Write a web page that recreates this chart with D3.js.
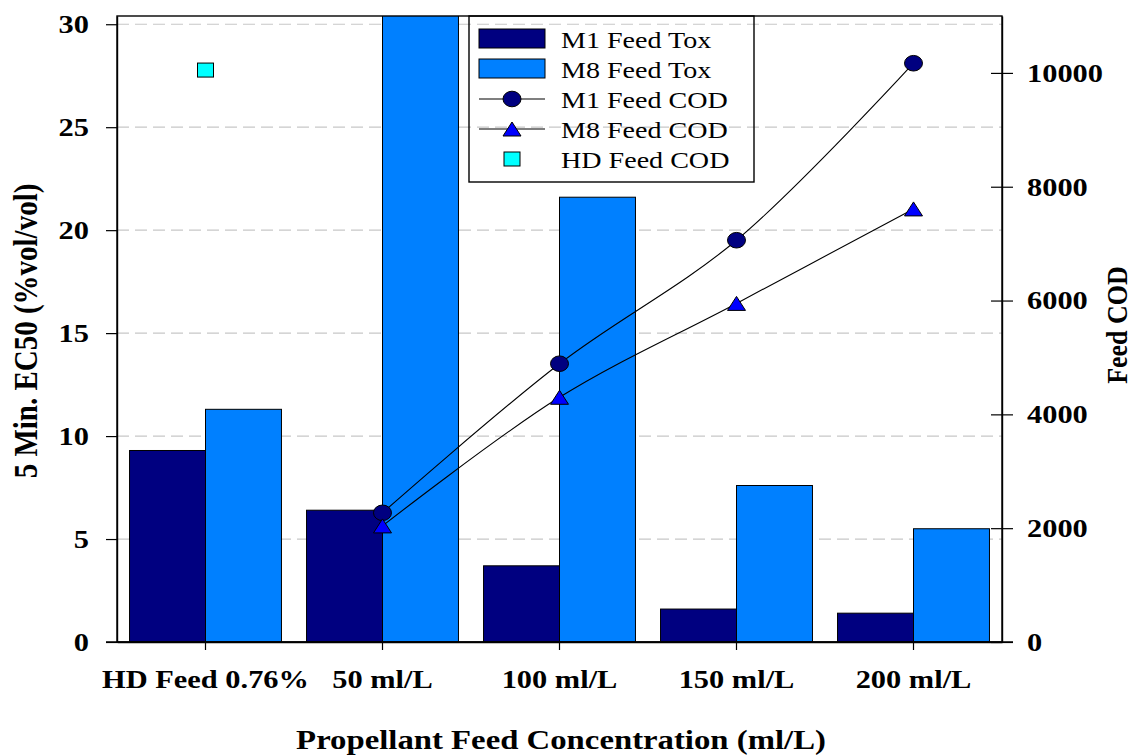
<!DOCTYPE html>
<html>
<head>
<meta charset="utf-8">
<script src="https://cdn.jsdelivr.net/npm/d3@7"></script>
<style>
  body { margin: 0; background: #fff; }
  text { font-family: "Liberation Serif", "Times New Roman", serif; fill: #000; }
</style>
</head>
<body>
<div id="chart"></div>
<script>
// chart data
var categories = ["HD Feed 0.76%", "50 ml/L", "100 ml/L", "150 ml/L", "200 ml/L"];
var m1Tox = [9.3, 6.4, 3.7, 1.6, 1.4];
var m8Tox = [11.3, 32, 21.6, 7.6, 5.5];   // 50 ml/L bar runs off the top
var m1Cod = [null, 2270, 4890, 7060, 10170];
var m8Cod = [null, 2040, 4300, 5950, 7610];
var hdCod = [10050, null, null, null, null];
var leftTicks = [0, 5, 10, 15, 20, 25, 30];
var rightTicks = [0, 2000, 4000, 6000, 8000, 10000];

var svgWidth = 1133;
var svgHeight = 756;
var margin = { top: 16, right: 131, bottom: 114, left: 117 };
var width = svgWidth - margin.left - margin.right;
var height = svgHeight - margin.top - margin.bottom;
var sx = 1.17; // the original is stretched sideways a little

var svg = d3.select("#chart")
  .append("svg")
  .attr("width", svgWidth)
  .attr("height", svgHeight);

var chartGroup = svg.append("g")
  .attr("transform", `translate(${margin.left}, ${margin.top})`);

// stretch text horizontally like the reference
function stretch(sel) {
  sel.each(function() {
    var t = d3.select(this);
    var x = +t.attr("x") || 0;
    var y = +t.attr("y") || 0;
    t.attr("x", 0).attr("y", 0)
      .attr("transform", `translate(${x}, ${y}) scale(${sx}, 1)`);
  });
}

var xScale = d3.scaleBand()
  .domain(categories)
  .range([0, width])
  .padding(0);

var xInner = d3.scaleBand()
  .domain(["m1", "m8"])
  .range([0, xScale.bandwidth()])
  .paddingInner(0)
  .paddingOuter(0.165);

var yLeft = d3.scaleLinear().domain([0, 30.4]).range([height, 0]);
var yRight = d3.scaleLinear().domain([0, 11000]).range([height, 0]);

// gridlines
chartGroup.append("g")
  .selectAll("line")
  .data(leftTicks.filter(d => d > 0))
  .enter()
  .append("line")
  .attr("x1", 0)
  .attr("x2", width)
  .attr("y1", d => yLeft(d))
  .attr("y2", d => yLeft(d))
  .attr("stroke", "#c8c8c8")
  .attr("stroke-width", 1.2)
  .attr("stroke-dasharray", "12,6");

svg.append("defs").append("clipPath")
  .attr("id", "plotClip")
  .append("rect")
  .attr("width", width)
  .attr("height", height);

// bars
var bars = chartGroup.append("g").attr("clip-path", "url(#plotClip)");
var barData = [];
categories.forEach(function(c, i) {
  barData.push({ cat: c, key: "m1", value: m1Tox[i], color: "#000080" });
  barData.push({ cat: c, key: "m8", value: m8Tox[i], color: "#0080ff" });
});
bars.selectAll("rect")
  .data(barData)
  .enter()
  .append("rect")
  .attr("x", d => xScale(d.cat) + xInner(d.key))
  .attr("width", xInner.bandwidth())
  .attr("y", d => yLeft(d.value))
  .attr("height", d => height - yLeft(d.value))
  .attr("fill", d => d.color)
  .attr("stroke", "#000")
  .attr("stroke-width", 1);

// COD lines
var cx = (d, i) => xScale(categories[i]) + xScale.bandwidth() / 2;
var codLine = d3.line()
  .defined(d => d != null)
  .x((d, i) => cx(d, i))
  .y(d => yRight(d))
  .curve(d3.curveCatmullRom);

[m1Cod, m8Cod].forEach(function(series) {
  chartGroup.append("path")
    .attr("d", codLine(series))
    .attr("fill", "none")
    .attr("stroke", "#000")
    .attr("stroke-width", 1.1);
});

function triangle(g, x, y) {
  g.append("path")
    .attr("d", `M${x - 9},${y + 7} L${x + 9},${y + 7} L${x},${y - 7} Z`)
    .attr("fill", "#0000ff")
    .attr("stroke", "#000")
    .attr("stroke-width", 1);
}

m1Cod.forEach(function(d, i) {
  if (d == null) return;
  chartGroup.append("ellipse")
    .attr("cx", cx(d, i))
    .attr("cy", yRight(d))
    .attr("rx", 9)
    .attr("ry", 7.8)
    .attr("fill", "#000080")
    .attr("stroke", "#000")
    .attr("stroke-width", 1);
});
m8Cod.forEach(function(d, i) {
  if (d == null) return;
  triangle(chartGroup, cx(d, i), yRight(d));
});
hdCod.forEach(function(d, i) {
  if (d == null) return;
  chartGroup.append("rect")
    .attr("x", cx(d, i) - 8)
    .attr("y", yRight(d) - 7)
    .attr("width", 16)
    .attr("height", 14)
    .attr("fill", "#00ffff")
    .attr("stroke", "#000")
    .attr("stroke-width", 1);
});

// frame
chartGroup.append("rect")
  .attr("width", width)
  .attr("height", height)
  .attr("fill", "none")
  .attr("stroke", "#000")
  .attr("stroke-width", 1.4);

// axes
var leftAxis = chartGroup.append("g")
  .call(d3.axisLeft(yLeft).tickValues(leftTicks).tickSize(11).tickSizeOuter(0).tickPadding(17));

var rightAxis = chartGroup.append("g")
  .attr("transform", `translate(${width}, 0)`)
  .call(d3.axisRight(yRight).tickValues(rightTicks).tickFormat(d3.format("d"))
    .tickSize(11).tickSizeOuter(0).tickPadding(14));
rightAxis.selectAll(".tick").append("line")
  .attr("x1", -11).attr("x2", 0)
  .attr("stroke", "#000");

var bottomAxis = chartGroup.append("g")
  .attr("transform", `translate(0, ${height})`)
  .call(d3.axisBottom(xScale).tickSize(8).tickSizeOuter(0));
bottomAxis.append("line")
  .attr("x1", -11).attr("x2", width + 11)
  .attr("stroke", "#000").attr("stroke-width", 1.4);

[leftAxis, rightAxis, bottomAxis].forEach(function(ax) {
  ax.select(".domain").attr("stroke-width", 1.4);
  ax.selectAll(".tick line").attr("stroke-width", 1.2);
  ax.selectAll("text")
    .attr("font-family", "Liberation Serif, Times New Roman, serif")
    .attr("font-weight", "bold")
    .attr("font-size", 26);
});
bottomAxis.selectAll("text").attr("y", 46).attr("dy", null);
stretch(leftAxis.selectAll("text"));
stretch(rightAxis.selectAll("text"));
stretch(bottomAxis.selectAll("text"));

// axis titles
svg.append("text")
  .attr("transform", `translate(37, 331) rotate(-90) scale(1, ${sx})`)
  .attr("text-anchor", "middle")
  .attr("font-weight", "bold")
  .attr("font-size", 29)
  .text("5 Min. EC50 (%vol/vol)");

svg.append("text")
  .attr("transform", `translate(1127, 325) rotate(-90) scale(1, ${sx})`)
  .attr("text-anchor", "middle")
  .attr("font-weight", "bold")
  .attr("font-size", 26)
  .text("Feed COD");

svg.append("text")
  .attr("transform", `translate(561, 749) scale(${sx}, 1)`)
  .attr("text-anchor", "middle")
  .attr("font-weight", "bold")
  .attr("font-size", 28)
  .text("Propellant Feed Concentration (ml/L)");

// legend
var legendLabels = ["M1 Feed Tox", "M8 Feed Tox", "M1 Feed COD", "M8 Feed COD", "HD Feed COD"];
var legend = svg.append("g");
legend.append("rect")
  .attr("x", 469).attr("y", 16)
  .attr("width", 285).attr("height", 166)
  .attr("fill", "none")
  .attr("stroke", "#000")
  .attr("stroke-width", 1.4);

legendLabels.forEach(function(label, i) {
  var base = 48 + i * 30;
  if (i < 2) {
    legend.append("rect")
      .attr("x", 479).attr("y", base - 19)
      .attr("width", 66).attr("height", 19)
      .attr("fill", i === 0 ? "#000080" : "#0080ff")
      .attr("stroke", "#000");
  } else if (i < 4) {
    legend.append("line")
      .attr("x1", 479).attr("x2", 545)
      .attr("y1", base - 9).attr("y2", base - 9)
      .attr("stroke", "#000").attr("stroke-width", 1.1);
    if (i === 2) {
      legend.append("ellipse")
        .attr("cx", 512).attr("cy", base - 9)
        .attr("rx", 9).attr("ry", 7.8)
        .attr("fill", "#000080").attr("stroke", "#000");
    } else {
      triangle(legend, 512, base - 9);
    }
  } else {
    legend.append("rect")
      .attr("x", 504).attr("y", base - 16)
      .attr("width", 16).attr("height", 14)
      .attr("fill", "#00ffff").attr("stroke", "#000");
  }
  legend.append("text")
    .attr("transform", `translate(561, ${base}) scale(${sx}, 1)`)
    .attr("font-size", 24)
    .text(label);
});
</script>
</body>
</html>
